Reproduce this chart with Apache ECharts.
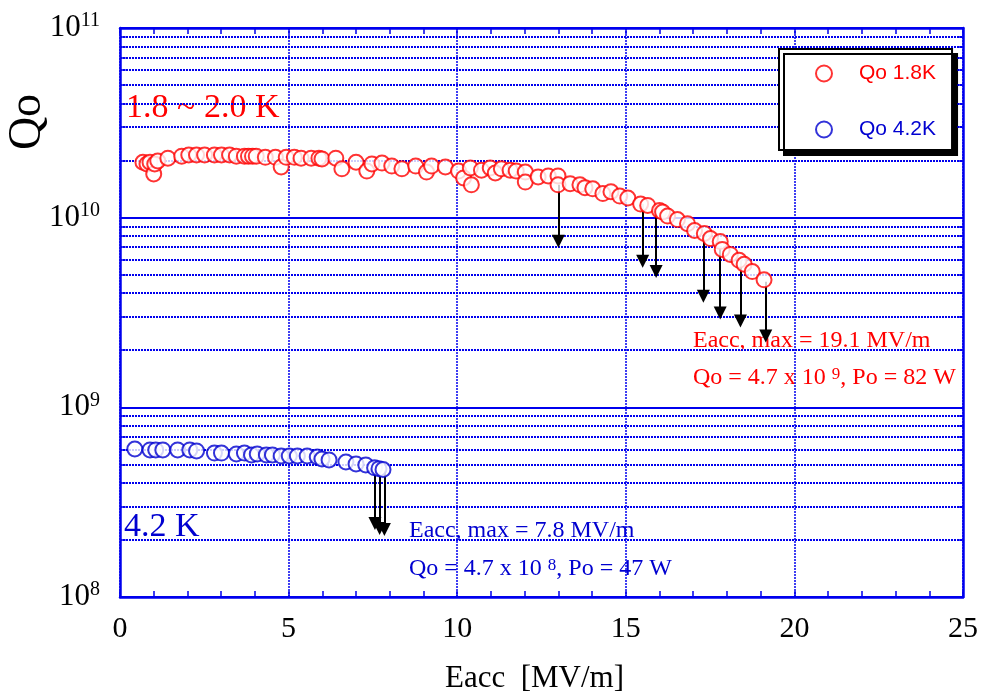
<!DOCTYPE html>
<html>
<head>
<meta charset="utf-8">
<title>Qo vs Eacc</title>
<script src="https://cdn.jsdelivr.net/npm/echarts@6/dist/echarts.min.js"></script>
<style>
  html, body { margin: 0; padding: 0; background: #ffffff; }
  #chart { width: 981px; height: 699px; }
</style>
</head>
<body>
<div id="chart"></div>
<script>
// Accelerating field Eacc [MV/m] and quality factor Qo, 1.8 ~ 2.0 K run
const eacc18 = [0.68, 0.80, 0.89, 1.00, 1.03, 1.12, 1.42, 1.83, 2.04, 2.27,
  2.51, 2.80, 3.01, 3.25, 3.45, 3.69, 3.81, 3.93, 4.04, 4.31,
  4.61, 4.78, 4.93, 5.17, 5.37, 5.67, 5.90, 5.99, 6.40, 6.58,
  7.00, 7.32, 7.47, 7.77, 8.06, 8.36, 8.77, 9.09, 9.24, 9.65,
  10.04, 10.19, 10.42, 10.39, 10.72, 10.98, 11.13, 11.31, 11.57, 11.75,
  12.02, 12.02, 12.40, 12.70, 12.99, 12.99, 13.35, 13.64, 13.79, 14.02,
  14.32, 14.56, 14.82, 15.06, 15.44, 15.65, 16.00, 16.09, 16.24, 16.53,
  16.83, 17.04, 17.33, 17.51, 17.80, 17.86, 18.10, 18.36, 18.51, 18.75,
  19.10];
const qo18 = [1.96e10, 1.92e10, 1.96e10, 1.70e10, 1.92e10, 1.99e10, 2.06e10, 2.11e10, 2.14e10, 2.14e10,
  2.14e10, 2.14e10, 2.14e10, 2.14e10, 2.11e10, 2.11e10, 2.11e10, 2.11e10, 2.11e10, 2.08e10,
  2.08e10, 1.85e10, 2.08e10, 2.08e10, 2.06e10, 2.06e10, 2.06e10, 2.04e10, 2.06e10, 1.81e10,
  1.96e10, 1.76e10, 1.92e10, 1.94e10, 1.87e10, 1.81e10, 1.87e10, 1.74e10, 1.87e10, 1.85e10,
  1.76e10, 1.62e10, 1.49e10, 1.83e10, 1.78e10, 1.83e10, 1.72e10, 1.81e10, 1.78e10, 1.76e10,
  1.74e10, 1.54e10, 1.64e10, 1.66e10, 1.66e10, 1.49e10, 1.51e10, 1.49e10, 1.44e10, 1.42e10,
  1.34e10, 1.37e10, 1.30e10, 1.27e10, 1.18e10, 1.16e10, 1.09e10, 1.07e10, 1.02e10, 9.77e9,
  9.30e9, 8.56e9, 8.25e9, 7.76e9, 7.48e9, 6.80e9, 6.40e9, 5.96e9, 5.68e9, 5.20e9,
  4.70e9];

// 4.2 K run
const eacc42 = [0.44, 0.89, 1.06, 1.27, 1.71, 2.07, 2.27, 2.80, 3.01, 3.45,
  3.69, 3.90, 4.07, 4.34, 4.52, 4.78, 5.02, 5.26, 5.55, 5.85,
  5.99, 6.20, 6.70, 7.00, 7.29, 7.55, 7.68, 7.80];
const qo42 = [6.03e8, 5.96e8, 5.96e8, 5.96e8, 5.96e8, 5.96e8, 5.89e8, 5.74e8, 5.74e8, 5.68e8,
  5.74e8, 5.61e8, 5.68e8, 5.61e8, 5.61e8, 5.54e8, 5.54e8, 5.54e8, 5.54e8, 5.47e8,
  5.34e8, 5.28e8, 5.15e8, 5.03e8, 4.97e8, 4.80e8, 4.75e8, 4.70e8];

// Downward arrows (upper limits): field, start Qo, tip Qo
const arrowE18 = [13.0, 15.5, 15.9, 17.3, 17.8, 18.4, 19.15];
const arrowFrom18 = [1.49e10, 1.18e10, 1.09e10, 8.15e9, 7.05e9, 5.96e9, 4.6e9];
const arrowTo18 = [7.5e9, 5.9e9, 5.2e9, 3.85e9, 3.14e9, 2.85e9, 2.38e9];
const arrowE42 = [7.56, 7.70, 7.84];
const arrowFrom42 = [4.65e8, 4.65e8, 4.65e8];
const arrowTo42 = [2.44e8, 2.30e8, 2.27e8];

// Axis ranges and log decades
const xTicks = [0, 5, 10, 15, 20, 25];
const decades = [8, 9, 10, 11];

const RED = '#ff0000';
const BLUE = '#0000d0';
const GRID_BLUE = '#0000ee';
const SERIF = '"Liberation Serif", "Times New Roman", serif';
const SANS = '"Liberation Sans", Arial, sans-serif';

// minor log values 2..9 within each decade
const minorVals = [];
for (let d = decades[0]; d < decades[decades.length - 1]; d++) {
  for (let m = 2; m <= 9; m++) minorVals.push(m * Math.pow(10, d));
}

const xMax = xTicks[xTicks.length - 1];
const minorGrid = minorVals.map(v => [{ coord: [0, v] }, { coord: [xMax, v] }]);
const minorTickLeft = minorVals.map(v => [{ coord: [0, v] }, { coord: [0.17, v] }]);
const minorTickRight = minorVals.map(v => [{ coord: [xMax - 0.17, v] }, { coord: [xMax, v] }]);

function arrows(es, from, to) {
  return es.map((e, i) => [{ coord: [e, from[i]] }, { coord: [e, to[i]] }]);
}

const supLabel = v => '{b|10}{s|' + Math.round(Math.log10(v)) + '}';
const labelRich = {
  b: { fontSize: 31, fontFamily: SERIF, color: '#000', lineHeight: 34 },
  s: { fontSize: 20, fontFamily: SERIF, color: '#000', verticalAlign: 'top', lineHeight: 18 }
};

const chart = echarts.init(document.getElementById('chart'), null, { renderer: 'canvas' });

const option = {
  animation: false,
  backgroundColor: '#ffffff',
  grid: { left: 120, right: 12, top: 28, bottom: 98, containLabel: false },
  xAxis: [{
    type: 'value', min: xTicks[0], max: xMax, interval: 5, position: 'bottom',
    name: 'Eacc  [MV/m]', nameLocation: 'middle', nameGap: 66,
    nameTextStyle: { fontFamily: SERIF, fontSize: 31, color: '#000', padding: [0, 14, 0, 0] },
    axisLine: { show: true, onZero: false, lineStyle: { color: GRID_BLUE, width: 2.5 } },
    axisTick: { show: true, inside: true, length: 6, lineStyle: { color: GRID_BLUE, width: 1.5 } },
    minorTick: { show: true, splitNumber: 5, length: 6, lineStyle: { color: GRID_BLUE, width: 1.5 } },
    axisLabel: { fontFamily: SERIF, fontSize: 30, color: '#000', margin: 17 },
    splitLine: { show: true, lineStyle: { color: GRID_BLUE, width: 1.5, type: [2, 1] } }
  }, {
    type: 'value', min: xTicks[0], max: xMax, interval: 5, position: 'top',
    axisLine: { show: true, onZero: false, lineStyle: { color: GRID_BLUE, width: 2.5 } },
    axisTick: { show: true, inside: true, length: 6, lineStyle: { color: GRID_BLUE, width: 1.5 } },
    minorTick: { show: true, splitNumber: 5, length: 6, lineStyle: { color: GRID_BLUE, width: 1.5 } },
    axisLabel: { show: false },
    splitLine: { show: false }
  }],
  yAxis: [{
    type: 'log', logBase: 10, min: Math.pow(10, decades[0]), max: Math.pow(10, decades[decades.length - 1]),
    position: 'left',
    axisLine: { show: true, onZero: false, lineStyle: { color: GRID_BLUE, width: 2.5 } },
    axisTick: { show: true, inside: true, length: 8, lineStyle: { color: GRID_BLUE, width: 1.5 } },
    axisLabel: { formatter: supLabel, rich: labelRich, margin: 20 },
    splitLine: { show: true, lineStyle: { color: GRID_BLUE, width: 2 } }
  }, {
    type: 'log', logBase: 10, min: Math.pow(10, decades[0]), max: Math.pow(10, decades[decades.length - 1]),
    position: 'right',
    axisLine: { show: true, onZero: false, lineStyle: { color: GRID_BLUE, width: 2.5 } },
    axisTick: { show: true, inside: true, length: 8, lineStyle: { color: GRID_BLUE, width: 1.5 } },
    axisLabel: { show: false },
    splitLine: { show: false }
  }],
  legend: {
    orient: 'vertical', left: 779, top: 49,
    padding: [14, 16, 10, 36], itemGap: 35,
    itemWidth: 16, itemHeight: 16,
    backgroundColor: '#ffffff', borderColor: '#000', borderWidth: 2, borderRadius: 0,
    shadowColor: '#000', shadowBlur: 0, shadowOffsetX: 5, shadowOffsetY: 5,
    icon: 'emptyCircle',
    textStyle: { fontFamily: SANS, fontSize: 21, lineHeight: 20, padding: [0, 0, 0, 22] },
    data: [
      { name: 'Qo 1.8K', textStyle: { color: RED } },
      { name: 'Qo 4.2K', textStyle: { color: BLUE } }
    ]
  },
  series: [{
    name: 'Qo 1.8K', type: 'scatter', z: 3,
    symbol: 'emptyCircle', symbolSize: 15,
    itemStyle: { color: RED, borderColor: RED, borderWidth: 1.5 },
    data: eacc18.map((e, i) => [e, qo18[i]]),
    markLine: {
      silent: true, z: 2, symbol: ['none', 'triangle'], symbolSize: 13,
      label: { show: false },
      lineStyle: { color: '#000', width: 2, type: 'solid' },
      emphasis: { disabled: true },
      data: arrows(arrowE18, arrowFrom18, arrowTo18)
    }
  }, {
    name: 'Qo 4.2K', type: 'scatter', z: 3,
    symbol: 'emptyCircle', symbolSize: 15,
    itemStyle: { color: BLUE, borderColor: BLUE, borderWidth: 1.5 },
    data: eacc42.map((e, i) => [e, qo42[i]]),
    markLine: {
      silent: true, z: 2, symbol: ['none', 'triangle'], symbolSize: 13,
      label: { show: false },
      lineStyle: { color: '#000', width: 2, type: 'solid' },
      emphasis: { disabled: true },
      data: arrows(arrowE42, arrowFrom42, arrowTo42)
    }
  }, {
    // minor log grid lines and side ticks
    name: 'grid', type: 'scatter', z: 1, data: [[-1, 1e7]], symbolSize: 0,
    markLine: {
      silent: true, z: 1, symbol: 'none', label: { show: false },
      lineStyle: { color: GRID_BLUE, width: 2, type: [2, 1] },
      emphasis: { disabled: true },
      data: minorGrid
    }
  }, {
    name: 'ticks', type: 'scatter', z: 4, data: [[-1, 1e7]], symbolSize: 0,
    markLine: {
      silent: true, z: 4, symbol: 'none', label: { show: false },
      lineStyle: { color: GRID_BLUE, width: 1.5, type: 'solid' },
      emphasis: { disabled: true },
      data: minorTickLeft.concat(minorTickRight)
    }
  }],
  graphic: [
    { type: 'text', x: 28, y: 122, rotation: Math.PI / 2,
      style: { text: 'Qo', fontFamily: SERIF, fontSize: 46, fill: '#000', align: 'center', verticalAlign: 'middle' } },
    { type: 'text', x: 126, y: 108,
      style: { text: '1.8 ~ 2.0 K', fontFamily: SERIF, fontSize: 34, fill: RED, align: 'left', verticalAlign: 'middle' } },
    { type: 'text', x: 124, y: 527,
      style: { text: '4.2 K', fontFamily: SERIF, fontSize: 34, fill: BLUE, align: 'left', verticalAlign: 'middle' } },
    { type: 'text', x: 693, y: 341,
      style: { text: 'Eacc, max = 19.1 MV/m', fontFamily: SERIF, fontSize: 24, fill: RED, align: 'left', verticalAlign: 'middle' } },
    { type: 'text', x: 693, y: 378,
      style: { text: 'Qo = 4.7 x 10 {s|9}, Po = 82 W', fontFamily: SERIF, fontSize: 24, fill: RED, align: 'left', verticalAlign: 'middle',
        rich: { s: { fontFamily: SERIF, fontSize: 17, fill: RED, verticalAlign: 'top', lineHeight: 16 } } } },
    { type: 'text', x: 409, y: 531,
      style: { text: 'Eacc, max = 7.8 MV/m', fontFamily: SERIF, fontSize: 24, fill: BLUE, align: 'left', verticalAlign: 'middle' } },
    { type: 'text', x: 409, y: 569,
      style: { text: 'Qo = 4.7 x 10 {s|8}, Po = 47 W', fontFamily: SERIF, fontSize: 24, fill: BLUE, align: 'left', verticalAlign: 'middle',
        rich: { s: { fontFamily: SERIF, fontSize: 17, fill: BLUE, verticalAlign: 'top', lineHeight: 16 } } } }
  ]
};

chart.setOption(option);
</script>
</body>
</html>
